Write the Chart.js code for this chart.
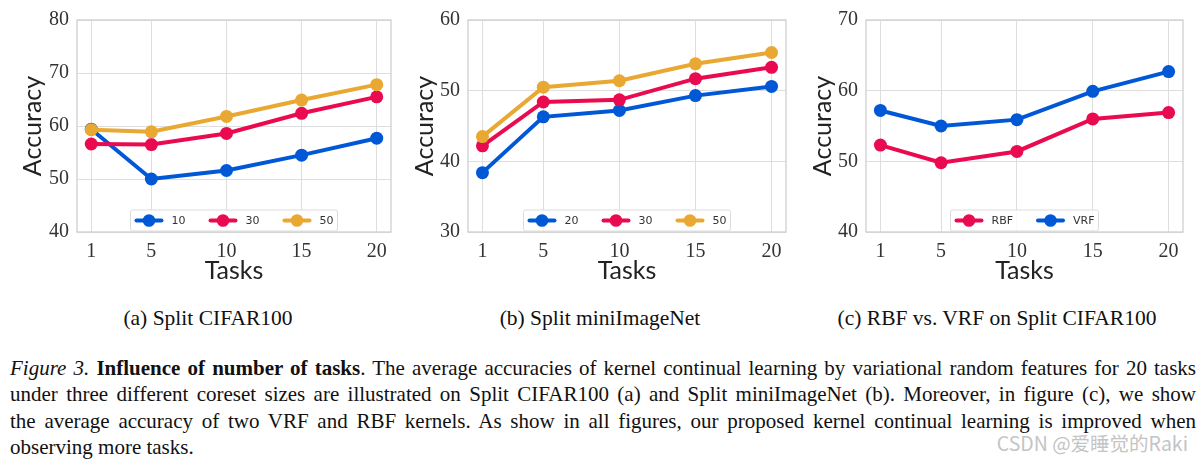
<!DOCTYPE html>
<html>
<head>
<meta charset="utf-8">
<script src="https://cdn.jsdelivr.net/npm/chart.js@4.4.0/dist/chart.umd.min.js"></script>
<style>
  html, body { margin: 0; padding: 0; background: #fff; }
  body { width: 1203px; height: 462px; position: relative; overflow: hidden; }
  .panel { position: absolute; top: 0; height: 290px; }
  .sub, .cap, .mark { position: absolute; white-space: nowrap; color: #111; }
  .sub { font: 21.5px "Liberation Serif", serif; width: 400px; text-align: center; top: 306px; line-height: 24px; }
  .cap { font: 21px "Liberation Serif", serif; left: 10px; width: 1186px; line-height: 26.3px; text-align: justify; text-align-last: justify; }
  .cap.last { text-align-last: left; }
  .mark { font: 19.5px "Noto Sans CJK SC", sans-serif; color: #c4c4c4; right: 15px; top: 430px; line-height: 26px; }
</style>
</head>
<body>
<div class="panel" style="left:0;width:400px"><canvas id="chartA" width="400" height="290"></canvas></div>
<div class="panel" style="left:400px;width:400px"><canvas id="chartB" width="400" height="290"></canvas></div>
<div class="panel" style="left:800px;width:403px"><canvas id="chartC" width="403" height="290"></canvas></div>

<div class="sub" style="left:8px">(a) Split CIFAR100</div>
<div class="sub" style="left:400px">(b) Split miniImageNet</div>
<div class="sub" style="left:797px">(c) RBF vs. VRF on Split CIFAR100</div>

<div class="cap" style="top:355px"><i>Figure 3.</i> <b>Influence of number of tasks</b>. The average accuracies of kernel continual learning by variational random features for 20 tasks</div>
<div class="cap" style="top:381.3px">under three different coreset sizes are illustrated on Split CIFAR100 (a) and Split miniImageNet (b). Moreover, in figure (c), we show</div>
<div class="cap" style="top:407.6px">the average accuracy of two VRF and RBF kernels. As show in all figures, our proposed kernel continual learning is improved when</div>
<div class="cap last" style="top:433.9px">observing more tasks.</div>
<div class="mark">CSDN @爱睡觉的Raki</div>

<script>
"use strict";

// x 轴：任务数
const TASKS = [1, 5, 10, 15, 20];

// (a) Split CIFAR100，三种 coreset 大小
const CIFAR_LABELS = ["10", "30", "50"];
const CIFAR_10 = [59.4, 50.0, 51.6, 54.5, 57.7];
const CIFAR_30 = [56.6, 56.5, 58.6, 62.4, 65.5];
const CIFAR_50 = [59.3, 58.9, 61.8, 64.9, 67.8];

// (b) Split miniImageNet
const MINI_LABELS = ["20", "30", "50"];
const MINI_20 = [38.4, 46.3, 47.2, 49.3, 50.6];
const MINI_30 = [42.2, 48.4, 48.7, 51.7, 53.3];
const MINI_50 = [43.5, 50.5, 51.4, 53.8, 55.4];

// (c) RBF vs. VRF
const KERNEL_LABELS = ["RBF", "VRF"];
const KERNEL_RBF = [52.3, 49.8, 51.4, 56.0, 56.9];
const KERNEL_VRF = [57.2, 55.0, 55.9, 59.9, 62.7];

const BLUE = "#0058d6";
const RED = "#ea0a4f";
const GOLD = "#e9a832";

// 画框 + 图内图例（放在绘图区底部中间）
const framePlugin = {
  id: "frame",
  beforeDatasetsDraw(chart) {
    const a = chart.chartArea, ctx = chart.ctx;
    ctx.save();
    ctx.strokeStyle = "#cfcfcf";
    ctx.lineWidth = 1.3;
    ctx.strokeRect(a.left, a.top, a.right - a.left, a.bottom - a.top);
    ctx.restore();
  },
  afterDraw(chart) {
    const a = chart.chartArea, ctx = chart.ctx;
    const sets = chart.data.datasets;
    ctx.save();
    ctx.font = "11px 'DejaVu Sans', sans-serif";
    const lineLen = 29, gap = 8, spacing = 23, pad = 4;
    const widths = sets.map(d => lineLen + gap + ctx.measureText(d.label).width);
    const total = widths.reduce((s, w) => s + w, 0) + spacing * (sets.length - 1) + pad * 2;
    const cx = (a.left + a.right) / 2;
    const x0 = cx - total / 2, h = 21, y0 = a.bottom - 1 - h;
    ctx.fillStyle = "rgba(255,255,255,0.85)";
    ctx.strokeStyle = "#dcdcdc";
    ctx.lineWidth = 1;
    ctx.beginPath();
    ctx.roundRect(x0, y0, total, h, 2);
    ctx.fill();
    ctx.stroke();
    let x = x0 + pad;
    const ym = y0 + h / 2;
    sets.forEach((d, i) => {
      ctx.strokeStyle = d.borderColor;
      ctx.lineWidth = 4;
      ctx.lineCap = "round";
      ctx.beginPath();
      ctx.moveTo(x + 2, ym);
      ctx.lineTo(x + lineLen - 2, ym);
      ctx.stroke();
      ctx.fillStyle = d.borderColor;
      ctx.beginPath();
      ctx.arc(x + lineLen / 2, ym, 6.3, 0, Math.PI * 2);
      ctx.fill();
      ctx.fillStyle = "#333";
      ctx.textBaseline = "middle";
      ctx.fillText(d.label, x + lineLen + gap, ym + 0.5);
      x += widths[i] + spacing;
    });
    ctx.restore();
  },
};

function series(label, values, color, order) {
  return {
    label,
    data: TASKS.map((t, i) => ({ x: t, y: values[i] })),
    borderColor: color,
    backgroundColor: color,
    borderWidth: 4,
    pointRadius: 6.5,
    pointHoverRadius: 6.5,
    pointBorderWidth: 0,
    order,
  };
}

function makeChart(id, datasets, yMin, yMax, geo) {
  new Chart(document.getElementById(id), {
    type: "line",
    data: { datasets },
    plugins: [framePlugin],
    options: {
      responsive: false,
      animation: false,
      events: [],
      layout: { padding: { top: 18, right: geo.padRight, bottom: 0, left: 0 } },
      plugins: { legend: { display: false }, tooltip: { enabled: false } },
      scales: {
        x: {
          type: "linear",
          min: 0.05,
          max: 20.95,
          afterBuildTicks: s => { s.ticks = TASKS.map(v => ({ value: v })); },
          afterFit: s => { s.height = 58; },
          grid: { color: "#dedede", lineWidth: 1, drawTicks: false },
          border: { display: false },
          ticks: {
            padding: 8,
            color: "#333",
            font: { family: "'Liberation Serif', serif", size: 20 },
            maxRotation: 0,
          },
          title: {
            display: true,
            text: "Tasks",
            color: "#222",
            font: { family: "Lato, sans-serif", size: 25 },
            padding: { top: 0, bottom: 4 },
          },
        },
        y: {
          min: yMin,
          max: yMax,
          afterFit: s => { s.width = geo.axisW; },
          grid: { color: "#dedede", lineWidth: 1, drawTicks: false },
          border: { display: false },
          ticks: {
            stepSize: 10,
            padding: 8,
            color: "#333",
            font: { family: "'Liberation Serif', serif", size: 20 },
          },
          title: {
            display: true,
            text: "Accuracy",
            color: "#222",
            font: { family: "Lato, sans-serif", size: 25 },
            padding: { top: geo.titlePad, bottom: 0 },
          },
        },
      },
    },
  });
}

makeChart("chartA", [
  series(CIFAR_LABELS[0], CIFAR_10, BLUE, 3),
  series(CIFAR_LABELS[1], CIFAR_30, RED, 2),
  series(CIFAR_LABELS[2], CIFAR_50, GOLD, 1),
], 40, 80, { axisW: 77, padRight: 9, titlePad: 18 });

makeChart("chartB", [
  series(MINI_LABELS[0], MINI_20, BLUE, 3),
  series(MINI_LABELS[1], MINI_30, RED, 2),
  series(MINI_LABELS[2], MINI_50, GOLD, 1),
], 30, 60, { axisW: 68, padRight: 14, titlePad: 10 });

makeChart("chartC", [
  series(KERNEL_LABELS[0], KERNEL_RBF, RED, 2),
  series(KERNEL_LABELS[1], KERNEL_VRF, BLUE, 1),
], 40, 70, { axisW: 66, padRight: 20, titlePad: 8 });
</script>
</body>
</html>
